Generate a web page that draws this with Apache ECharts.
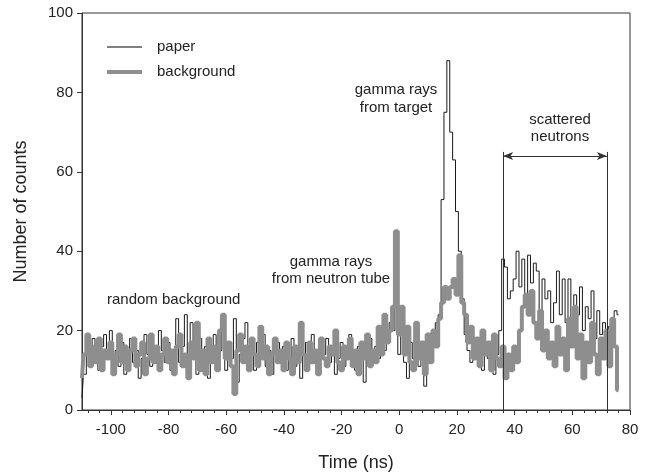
<!DOCTYPE html>
<html>
<head>
<meta charset="utf-8">
<script src="https://cdn.jsdelivr.net/npm/echarts@6/dist/echarts.min.js"></script>
<style>
  html, body { margin: 0; padding: 0; background: #fff; }
  #chart { width: 660px; height: 473px; }
</style>
</head>
<body>
<div id="chart"></div>
<script>
// time bins, 1 ns wide, first bin at -110 ns
const binStartNs = -110;

// counts per bin, rows of ten bins
const paperCounts = [
  3, 9, 15, 12, 18, 13, 10, 16, 19, 14,
  20, 12, 15, 11, 17, 9, 14, 18, 12, 15,
  8, 13, 19, 14, 11, 16, 13, 20, 15, 12,
  17, 10, 14, 23, 12, 16, 24, 11, 22, 15,
  9, 18, 13, 16, 8, 14, 19, 12, 15, 21,
  10, 16, 13, 23, 7, 14, 18, 22, 12, 15,
  10, 17, 13, 19, 11, 15, 9, 14, 17, 12,
  16, 10, 13, 18, 11, 15, 8, 14, 17, 12,
  19, 13, 10, 16, 14, 18, 12, 15, 9, 13,
  17, 11, 15, 19, 13, 10, 16, 14, 7, 15,
  18, 12, 16, 13, 19, 15, 18, 22, 20, 36,
  14, 26, 12, 8, 17, 13, 19, 11, 15, 6,
  14, 18, 16, 22, 24, 53, 75, 88, 70, 63,
  50, 40, 28, 19, 15, 12, 18, 14, 16, 10,
  17, 13, 15, 9, 14, 20, 38, 36, 28, 30,
  33, 40, 31, 38, 29, 39, 32, 37, 35, 25,
  33, 28, 30, 22, 27, 35, 24, 33, 22, 33,
  21, 29, 24, 31, 20, 26, 23, 30, 18, 25,
  19, 22, 17, 21, 16, 25, 24
];

const backgroundCounts = [
  8, 14, 19, 11, 16, 12, 18, 10, 15, 13,
  17, 9, 14, 19, 12, 16, 10, 15, 18, 11,
  14, 17, 9, 13, 19, 12, 16, 10, 14, 18,
  12, 15, 9, 16, 19, 11, 14, 8, 17, 13,
  22, 10, 15, 9, 18, 12, 16, 10, 20, 24,
  13, 17, 11, 4, 15, 19, 12, 16, 10, 18,
  14, 11, 21, 13, 16, 9, 14, 18, 12, 15,
  10, 17, 13, 9, 16, 12, 22, 14, 10, 17,
  12, 15, 9, 18, 13, 11, 16, 14, 20, 12,
  10, 16, 13, 18, 11, 15, 9, 17, 13, 19,
  11, 15, 12, 21, 14, 24, 17, 20, 26, 45,
  19, 26, 14, 21, 12, 10, 22, 13, 17, 9,
  19, 12, 20, 16, 23, 27, 31, 28, 31, 33,
  29, 39, 27, 24, 17, 21, 13, 18, 11, 20,
  14, 17, 10, 19, 13, 11, 16, 8, 14, 10,
  16, 12, 20, 26, 29, 24, 30, 22, 18, 25,
  15, 20, 13, 17, 11, 21, 14, 18, 10, 23,
  16, 26, 13, 19, 8, 17, 12, 22, 14, 9,
  18, 13, 20, 11, 23, 16, 5
];

const xTicks = [-100, -80, -60, -40, -20, 0, 20, 40, 60, 80];
const yTicks = [0, 20, 40, 60, 80, 100];

// scattered neutron window (ns) and arrow height (counts)
const neutronWindow = [36, 72];
const windowTop = 65;
const arrowLevel = 64;

const FONT = '"Liberation Sans", Arial, sans-serif';
const PAPER_COLOR = '#1a1a1a';
const BG_COLOR = '#8e8e8e';

function toPairs(counts) {
  return counts.map((c, i) => [binStartNs + i, c]);
}

const minorTicks = [];
for (let v = -108; v <= 80; v += 4) {
  if (v % 20 !== 0) minorTicks.push(v);
}

const chart = echarts.init(document.getElementById('chart'));

const textStyle = (extra) => Object.assign({
  font: '15px ' + FONT, fill: '#222', align: 'center', verticalAlign: 'middle', lineHeight: 17
}, extra);

chart.setOption({
  animation: false,
  grid: {
    left: 82, right: 30, top: 13, bottom: 63,
    outerBoundsMode: 'none', containLabel: false,
    show: true, borderColor: '#333', borderWidth: 1
  },
  xAxis: [
    {
      type: 'value', min: -110, max: 80, position: 'bottom',
      name: 'Time (ns)', nameLocation: 'middle', nameGap: 44,
      nameTextStyle: { fontFamily: FONT, fontSize: 18, color: '#222' },
      axisLine: { onZero: false, lineStyle: { color: '#333' } },
      axisTick: { customValues: xTicks, length: 5, lineStyle: { color: '#333' } },
      axisLabel: { customValues: xTicks, fontFamily: FONT, fontSize: 15, color: '#222', margin: 12 },
      splitLine: { show: false }
    },
    {
      type: 'value', min: -110, max: 80, position: 'bottom',
      axisLine: { show: false, onZero: false },
      axisTick: { customValues: minorTicks, length: 3, lineStyle: { color: '#333' } },
      axisLabel: { show: false },
      splitLine: { show: false }
    }
  ],
  yAxis: {
    type: 'value', min: 0, max: 100, interval: 20, position: 'left',
    name: 'Number of counts', nameLocation: 'middle', nameGap: 52,
    nameTextStyle: { fontFamily: FONT, fontSize: 18, color: '#222' },
    axisLine: { show: true, onZero: false, lineStyle: { color: '#333' } },
    axisTick: { show: true, length: 5, lineStyle: { color: '#333' } },
    axisLabel: { customValues: yTicks, fontFamily: FONT, fontSize: 15, color: '#222', margin: 9 },
    splitLine: { show: false }
  },
  series: [
    {
      name: 'paper', type: 'line', step: 'middle',
      showSymbol: false, symbol: 'none',
      data: toPairs(paperCounts),
      lineStyle: { color: PAPER_COLOR, width: 1 }
    },
    {
      name: 'background', type: 'line', step: 'middle',
      showSymbol: false, symbol: 'none',
      data: toPairs(backgroundCounts),
      lineStyle: { color: BG_COLOR, width: 4 },
      markLine: {
        silent: true,
        symbol: 'none',
        label: { show: false },
        lineStyle: { color: '#333', width: 1, type: 'solid' },
        data: [
          [{ coord: [neutronWindow[0], 0] }, { coord: [neutronWindow[0], windowTop] }],
          [{ coord: [neutronWindow[1], 0] }, { coord: [neutronWindow[1], windowTop] }],
          [
            { coord: [neutronWindow[0], arrowLevel], symbol: 'arrow', symbolSize: [6, 10] },
            { coord: [neutronWindow[1], arrowLevel], symbol: 'arrow', symbolSize: [6, 10] }
          ]
        ]
      }
    }
  ],
  graphic: [
    // legend
    { type: 'line', shape: { x1: 107, y1: 47, x2: 142, y2: 47 }, style: { stroke: '#555', lineWidth: 1.5 } },
    { type: 'line', shape: { x1: 107, y1: 72, x2: 142, y2: 72 }, style: { stroke: BG_COLOR, lineWidth: 4 } },
    { type: 'text', x: 157, y: 47, style: textStyle({ text: 'paper', align: 'left' }) },
    { type: 'text', x: 157, y: 72, style: textStyle({ text: 'background', align: 'left' }) },
    // annotations
    { type: 'text', x: 396, y: 99, style: textStyle({ text: 'gamma rays\nfrom target', lineHeight: 18 }) },
    { type: 'text', x: 331, y: 270, style: textStyle({ text: 'gamma rays\nfrom neutron tube' }) },
    { type: 'text', x: 560, y: 128, style: textStyle({ text: 'scattered\nneutrons' }) },
    { type: 'text', x: 107, y: 300, style: textStyle({ text: 'random background', align: 'left' }) }
  ]
});
</script>
</body>
</html>
